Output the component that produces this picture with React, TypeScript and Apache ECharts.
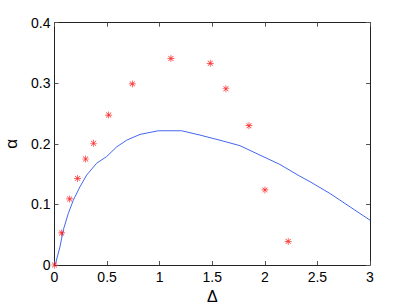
import React, { useEffect, useRef } from "react";
import * as echarts from "echarts";

const xTicks = [0, 0.5, 1, 1.5, 2, 2.5, 3];
const yTicks = [0, 0.1, 0.2, 0.3, 0.4];

const pointsX = [0, 0.068, 0.144, 0.22, 0.296, 0.372, 0.515, 0.74, 1.107, 1.481, 1.63, 1.849, 2.001, 2.222];
const pointsY = [0, 0.053, 0.109, 0.143, 0.175, 0.201, 0.2475, 0.299, 0.341, 0.333, 0.291, 0.23, 0.124, 0.039];

const curveX = [0, 0.011, 0.052, 0.084, 0.131, 0.179, 0.242, 0.306, 0.401, 0.496, 0.591, 0.686, 0.813, 0.987, 1.209, 1.383, 1.573, 1.763, 1.953, 2.143, 2.334, 2.43, 2.62, 2.81, 3.0];
const curveY = [0, 0.003, 0.03, 0.058, 0.085, 0.107, 0.129, 0.1485, 0.168, 0.179, 0.195, 0.206, 0.2156, 0.2216, 0.2216, 0.2145, 0.206, 0.197, 0.1815, 0.166, 0.1465, 0.1375, 0.118, 0.096, 0.074];

const asterisk =
  "path://M4.5 0H5.5V10H4.5Z M0 4.5H10V5.5H0Z M1.1 1.8L1.8 1.1L8.9 8.2L8.2 8.9Z M8.2 1.1L8.9 1.8L1.8 8.9L1.1 8.2Z";

const FONT = "Liberation Sans, Arial, Helvetica, sans-serif";

export default function App() {
  const ref = useRef<HTMLDivElement>(null);
  useEffect(() => {
    if (!ref.current) return;
    const chart = echarts.init(ref.current, undefined, { renderer: "svg" });
    const lineColor = "#222";
    const axisCommon = {
      type: "value" as const,
      axisLine: { show: true, onZero: false, lineStyle: { color: lineColor, width: 1 } },
      axisTick: { show: true, inside: true, length: 4, lineStyle: { color: "#555" } },
      splitLine: { show: false },
    };
    chart.setOption({
      animation: false,
      backgroundColor: "#fff",
      grid: {
        left: 54.5,
        right: 39,
        top: 22.7,
        bottom: 42,
        containLabel: false,
        outerBoundsMode: "none",
      },
      xAxis: [
        {
          ...axisCommon,
          position: "bottom",
          min: xTicks[0],
          max: xTicks[xTicks.length - 1],
          interval: 0.5,
          axisLabel: { color: "#000", fontSize: 14, fontFamily: FONT, margin: 5 },
          name: "Δ",
          nameLocation: "middle",
          nameGap: 22,
          nameTextStyle: { color: "#000", fontSize: 16, fontFamily: FONT },
        },
        {
          ...axisCommon,
          position: "top",
          min: xTicks[0],
          max: xTicks[xTicks.length - 1],
          interval: 0.5,
          axisLabel: { show: false },
        },
      ],
      yAxis: [
        {
          ...axisCommon,
          position: "left",
          min: yTicks[0],
          max: yTicks[yTicks.length - 1],
          interval: 0.1,
          axisLabel: { color: "#000", fontSize: 14, fontFamily: FONT, margin: 4 },
          name: "α",
          nameLocation: "middle",
          nameGap: 32,
          nameTextStyle: { color: "#000", fontSize: 17, fontFamily: FONT },
        },
        {
          ...axisCommon,
          position: "right",
          min: yTicks[0],
          max: yTicks[yTicks.length - 1],
          interval: 0.1,
          axisLabel: { show: false },
        },
      ],
      series: [
        {
          type: "line",
          data: curveX.map((x, i) => [x, curveY[i]]),
          showSymbol: false,
          smooth: false,
          lineStyle: { color: "#4466ee", width: 1 },
          z: 2,
        },
        {
          type: "scatter",
          data: pointsX.map((x, i) => [x, pointsY[i]]),
          symbol: asterisk,
          symbolSize: 7,
          itemStyle: { color: "#ff0000" },
          z: 3,
        },
      ],
    });
    return () => chart.dispose();
  }, []);
  return (
    <div
      ref={ref}
      style={{ position: "fixed", left: 0, top: 0, width: 409, height: 307, background: "#fff" }}
    />
  );
}
